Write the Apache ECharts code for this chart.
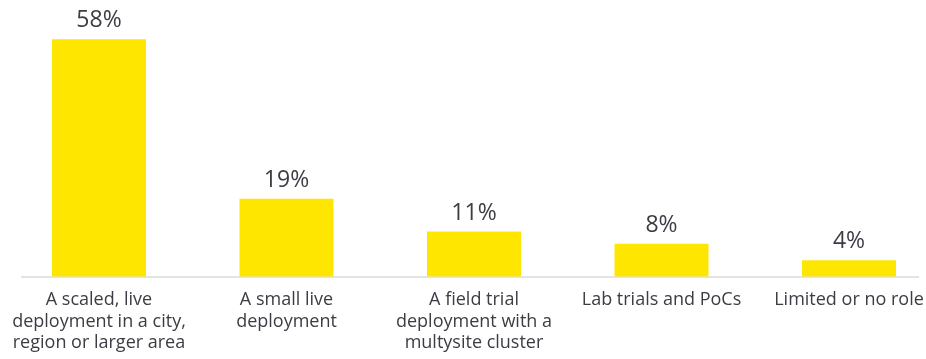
<!DOCTYPE html>
<html>
<head>
<meta charset="utf-8">
<script src="https://cdn.jsdelivr.net/npm/echarts@6/dist/echarts.min.js"></script>
<style>
  html, body { margin: 0; padding: 0; background: #ffffff; }
  #chart { width: 926px; height: 359px; }
</style>
</head>
<body>
<div id="chart"></div>
<script>
// Role categories (line breaks as shown under each bar)
const categories = [
  'A scaled, live\ndeployment in a city,\nregion or larger area',
  'A small live\ndeployment',
  'A field trial\ndeployment with a\nmultysite cluster',
  'Lab trials and PoCs',
  'Limited or no role'
];
// Share of respondents, percent
const shares = [58, 19, 11, 8, 4];

const textColor = '#3c3c44';
const fontFamily = '"Open Sans", "Noto Sans", sans-serif';

const chart = echarts.init(document.getElementById('chart'), null, { renderer: 'canvas' });

chart.setOption({
  animation: false,
  backgroundColor: '#ffffff',
  grid: {
    left: 5.25, top: 31, width: 937.5, height: 245.5,
    containLabel: false,
    outerBoundsMode: 'none'
  },
  xAxis: {
    type: 'category',
    data: categories,
    axisLine: { show: false },
    axisTick: { show: false },
    axisLabel: {
      interval: 0,
      margin: 13,
      color: textColor,
      fontFamily: fontFamily,
      fontSize: 18,
      lineHeight: 21.5,
      align: 'center',
      hideOverlap: false
    }
  },
  yAxis: {
    type: 'value',
    min: 0,
    max: 60,
    show: false,
    splitLine: { show: false }
  },
  series: [{
    type: 'bar',
    data: shares,
    barWidth: 94,
    itemStyle: { color: '#FFE600' },
    label: {
      show: true,
      position: 'top',
      distance: 7,
      formatter: '{c}%',
      color: textColor,
      fontFamily: fontFamily,
      fontSize: 23
    }
  }]
});

// Baseline rule under the bars
const baseY = chart.convertToPixel({ yAxisIndex: 0 }, 0);
chart.setOption({
  graphic: [{
    type: 'line',
    shape: { x1: 21, y1: baseY + 0.5, x2: 919, y2: baseY + 0.5 },
    style: { stroke: '#c8c8c8', lineWidth: 1 },
    z: 1
  }]
});
</script>
</body>
</html>
